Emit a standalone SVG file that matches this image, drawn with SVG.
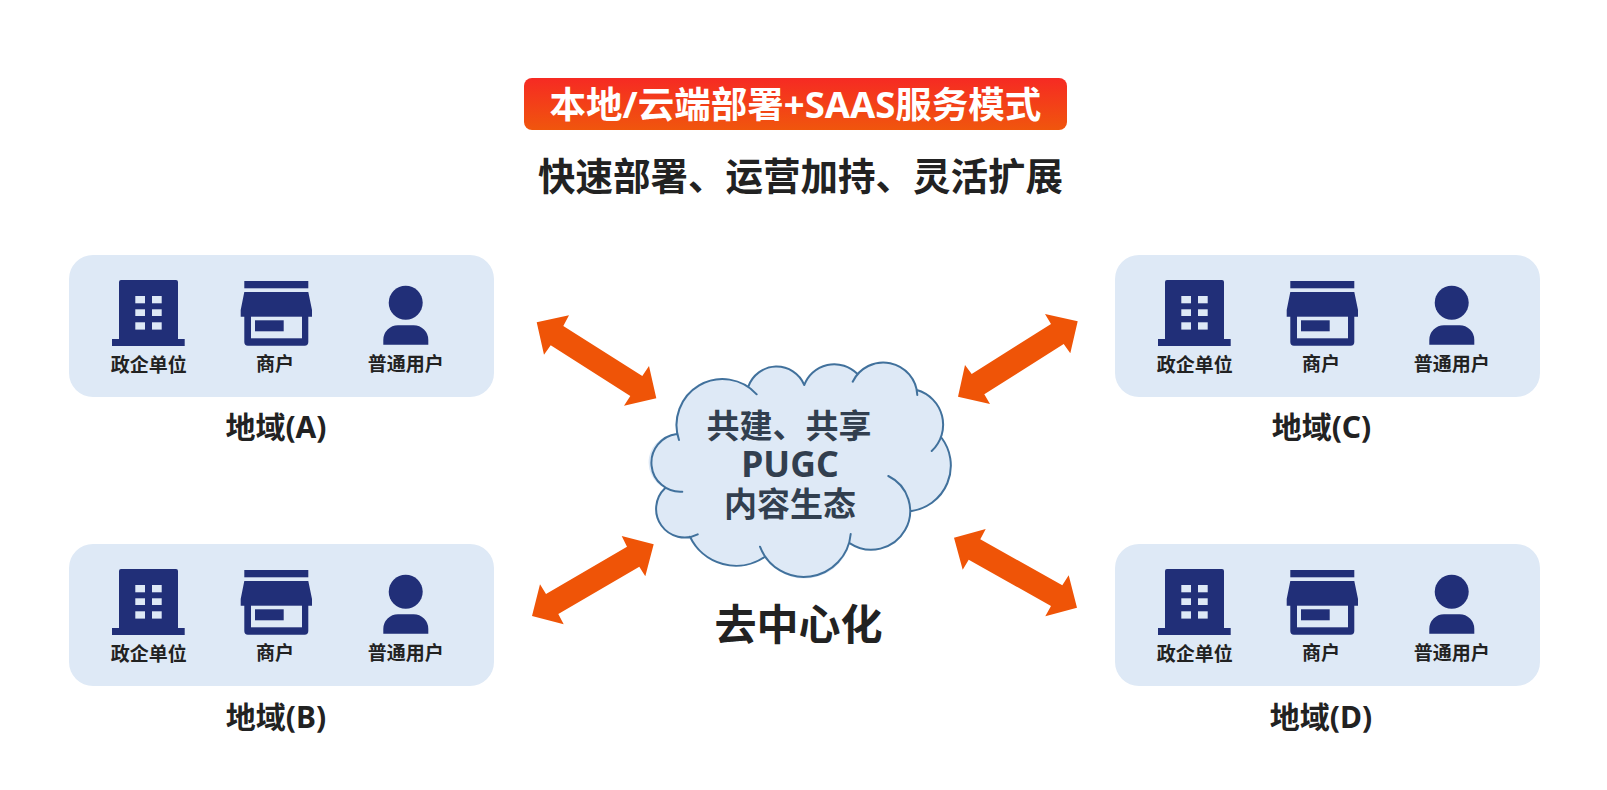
<svg xmlns="http://www.w3.org/2000/svg" width="1607" height="790" viewBox="0 0 1607 790">
<style>
text{font-family:"Noto Sans","Noto Sans CJK SC",sans-serif;font-weight:700;text-anchor:middle;dominant-baseline:central;fill:#222}
.panel{fill:#DEE9F6}
.ico{fill:#212F78}
.win{fill:#DEE9F6}
.sm{font-size:19px}
.reg{font-size:30px}
.arrow{fill:#EF5407}
.cloudfill{fill:#DEE9F6}
.cloudline{fill:none;stroke:#41719C;stroke-width:2;stroke-linecap:round}
.ct{font-size:33px;fill:#323F4F}
</style>
<defs>
<linearGradient id="hdr" x1="0" y1="0" x2="0" y2="1"><stop offset="0" stop-color="#F62A23"/><stop offset="1" stop-color="#F0560D"/></linearGradient>
<g id="icons">
<path class="ico" d="M121,280H176a2,2 0 0 1 2,2V339H184.700V346H112V339H119V282a2,2 0 0 1 2,-2Z"/>
<rect class="win" x="135.300" y="296" width="9.700" height="7.300"/><rect class="win" x="152" y="296" width="9.700" height="7.300"/>
<rect class="win" x="135.300" y="309.300" width="9.700" height="6.700"/><rect class="win" x="152" y="309.300" width="9.700" height="6.700"/>
<rect class="win" x="135.300" y="322.300" width="9.700" height="7.300"/><rect class="win" x="152" y="322.300" width="9.700" height="7.300"/>
<rect class="ico" x="244.300" y="281" width="64" height="7.300"/>
<path class="ico" d="M244.300,292H308.300L312,310V316.700H308.300V342a3.700,3.700 0 0 1 -3.700,3.700H248a3.700,3.700 0 0 1 -3.700,-3.700V316.700H240.700V310Z"/>
<rect class="win" x="251" y="316.700" width="51" height="21.600"/>
<rect class="ico" x="255" y="320.300" width="28.700" height="11"/>
<circle class="ico" cx="405.700" cy="302.700" r="17"/>
<path class="ico" d="M383.300,344.700V340a14.700,14.700 0 0 1 14.700,-14.700H413.600a14.700,14.700 0 0 1 14.700,14.700V344.700Z"/>
</g>
</defs>

<g id="header">
<rect x="524" y="78" width="543" height="52" rx="8" fill="url(#hdr)"/>
<text x="795.500" y="104" font-size="36.500" style="fill:#fff">本地/云端部署+SAAS服务模式</text>
</g>
<text id="subtitle" x="800.500" y="175" font-size="37.500">快速部署、运营加持、灵活扩展</text>

<g id="region-a">
<rect class="panel" x="69" y="255" width="425" height="142" rx="24"/>
<use href="#icons"/>
<text class="sm" x="148.700" y="364.500">政企单位</text><text class="sm" x="275" y="363.500">商户</text><text class="sm" x="405.700" y="363.500">普通用户</text>
<text class="reg" x="276" y="426.500">地域(A)</text>
</g>
<g id="region-b" transform="translate(0,289)">
<rect class="panel" x="69" y="255" width="425" height="142" rx="24"/>
<use href="#icons"/>
<text class="sm" x="148.700" y="364.500">政企单位</text><text class="sm" x="275" y="363.500">商户</text><text class="sm" x="405.700" y="363.500">普通用户</text>
<text class="reg" x="276" y="427">地域(B)</text>
</g>
<g id="region-c" transform="translate(1046,0)">
<rect class="panel" x="69" y="255" width="425" height="142" rx="24"/>
<use href="#icons"/>
<text class="sm" x="148.700" y="364.500">政企单位</text><text class="sm" x="275" y="363.500">商户</text><text class="sm" x="405.700" y="363.500">普通用户</text>
<text class="reg" x="275.500" y="426.500">地域(C)</text>
</g>
<g id="region-d" transform="translate(1046,289)">
<rect class="panel" x="69" y="255" width="425" height="142" rx="24"/>
<use href="#icons"/>
<text class="sm" x="148.700" y="364.500">政企单位</text><text class="sm" x="275" y="363.500">商户</text><text class="sm" x="405.700" y="363.500">普通用户</text>
<text class="reg" x="275" y="427">地域(D)</text>
</g>

<g id="cloud">
<path class="cloudfill" d="M676.700,434A46,46 0 0 1 748.300,386.700A30,30 0 0 1 804.300,385A32,32 0 0 1 856.700,373.300L852.700,381.700A34,34 0 0 1 916.700,390A36,36 0 0 1 941.700,438A46,46 0 0 1 911.700,511L911,512A39,39 0 0 1 850,543.300A47,47 0 0 1 760,546.700L765,556.700A51,51 0 0 1 690,536.700L697.700,534.300A28.500,28.500 0 0 1 665,488.300A28.500,28.500 0 0 1 676.700,434Z"/>
<path class="cloudline" d="M679,440A46,46 0 0 1 756.700,394.300M748.300,386.700A30,30 0 0 1 804.300,385M804.300,385A32,32 0 0 1 856.700,373.300M852.700,381.700A34,34 0 0 1 917.300,395M916.700,390A36,36 0 0 1 931.700,451M941.700,438A46,46 0 0 1 911.700,511M888.300,476A38.800,38.800 0 1 1 850,543.300M850.700,534A47,47 0 0 1 760,546.700M765,556.700A51,51 0 0 1 690,536.700M697.700,534.300A28.500,28.500 0 0 1 665,488.300M676.700,434A29,29 0 0 0 682.300,491.700"/>
<text class="ct" x="789" y="425">共建、共享</text>
<text class="ct" x="790" y="463" style="font-size:35.500px">PUGC</text>
<text class="ct" x="790" y="503">内容生态</text>
</g>
<text id="decentral" x="798.500" y="623" font-size="42">去中心化</text>

<g id="connectors">
<polygon class="arrow" points="536.700,322.300 569,315.300 563.300,326 642.300,376 649,366 656.300,398.300 624,405.700 630.300,396 550.700,345.300 544,354.700"/>
<polygon class="arrow" points="958,396.700 965,365 971.700,374 1051,324 1045,314 1077.700,321.300 1070.300,353.300 1063.700,344 984.300,394.300 990,404"/>
<polygon class="arrow" points="532,616 540,584.300 546,594 627,546.700 621.700,536 653.700,544.300 645.300,576.300 639.300,566.700 558.300,614 563.700,624.300"/>
<polygon class="arrow" points="954,537.700 985.700,529 980.300,539.300 1062.300,585.300 1068.700,575.300 1077,607.700 1045.300,616.300 1051,606 968.700,559.700 962.700,569.700"/>
</g>
</svg>
